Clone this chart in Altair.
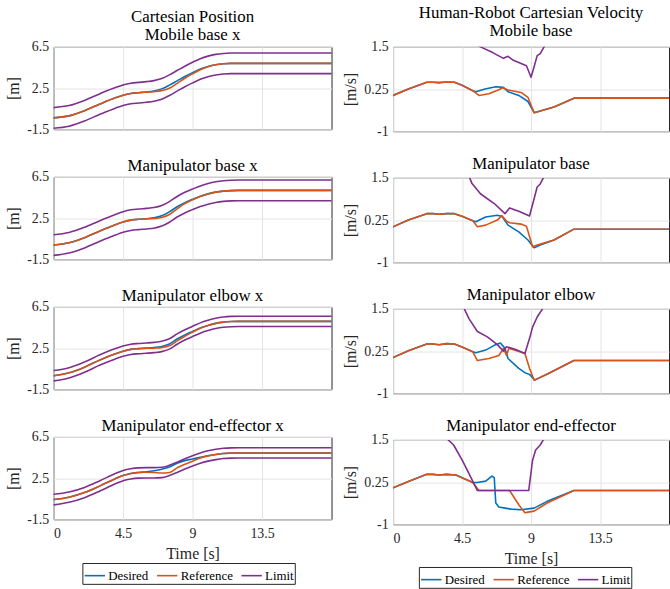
import altair as alt
import pandas as pd

SERIES = ["Desired", "Reference", "Limit"]
COLORS = ["#0072BD", "#D95319", "#7E2F8E"]
WIDTHS = [1.6, 1.6, 3.6]

# ---------------- Cartesian position (left column) ----------------
T_POS = [0, 1, 2, 3, 4, 4.5, 5, 5.5, 6, 6.5, 7, 7.5, 8, 8.5, 9, 9.5, 10, 10.5, 11, 11.5, 12, 13, 18]

MB_POS_DES = [-0.40, -0.20, 0.30, 0.95, 1.55, 1.80, 1.97, 2.05, 2.12, 2.22, 2.42, 2.78, 3.20, 3.62, 4.00, 4.35, 4.60, 4.77, 4.86, 4.90, 4.90, 4.90, 4.90]
MB_POS_REF = [-0.40, -0.20, 0.30, 0.95, 1.55, 1.80, 1.97, 2.05, 2.10, 2.15, 2.25, 2.48, 2.95, 3.45, 3.88, 4.28, 4.57, 4.77, 4.86, 4.90, 4.90, 4.90, 4.90]
MB_POS_UP = [0.60, 0.80, 1.30, 1.95, 2.55, 2.80, 2.97, 3.05, 3.12, 3.22, 3.42, 3.78, 4.20, 4.62, 5.00, 5.35, 5.60, 5.77, 5.86, 5.90, 5.90, 5.90, 5.90]
MB_POS_LO = [-1.40, -1.20, -0.70, -0.05, 0.55, 0.80, 0.97, 1.05, 1.12, 1.22, 1.42, 1.78, 2.20, 2.62, 3.00, 3.35, 3.60, 3.77, 3.86, 3.90, 3.90, 3.90, 3.90]

BS_POS_DES = [-0.12, 0.10, 0.60, 1.25, 1.85, 2.12, 2.30, 2.38, 2.44, 2.52, 2.72, 3.10, 3.60, 4.00, 4.32, 4.62, 4.85, 5.02, 5.12, 5.17, 5.19, 5.19, 5.19]
BS_POS_REF = [-0.12, 0.10, 0.60, 1.25, 1.85, 2.12, 2.30, 2.38, 2.42, 2.46, 2.56, 2.85, 3.40, 3.90, 4.28, 4.60, 4.84, 5.02, 5.12, 5.17, 5.19, 5.19, 5.19]
BS_POS_UP = [0.88, 1.10, 1.60, 2.25, 2.85, 3.12, 3.30, 3.38, 3.44, 3.52, 3.72, 4.10, 4.60, 5.00, 5.32, 5.62, 5.85, 6.02, 6.12, 6.17, 6.19, 6.19, 6.19]
BS_POS_LO = [-1.12, -0.90, -0.40, 0.25, 0.85, 1.12, 1.30, 1.38, 1.44, 1.52, 1.72, 2.10, 2.60, 3.00, 3.32, 3.62, 3.85, 4.02, 4.12, 4.17, 4.19, 4.19, 4.19]

EL_POS_DES = [-0.18, 0.10, 0.65, 1.35, 1.95, 2.20, 2.38, 2.45, 2.50, 2.56, 2.66, 2.90, 3.38, 3.78, 4.12, 4.45, 4.70, 4.90, 5.02, 5.08, 5.10, 5.10, 5.10]
EL_POS_REF = [-0.18, 0.10, 0.65, 1.35, 1.95, 2.20, 2.38, 2.45, 2.48, 2.50, 2.55, 2.72, 3.20, 3.65, 4.05, 4.42, 4.70, 4.90, 5.02, 5.08, 5.10, 5.10, 5.10]
EL_POS_UP = [0.32, 0.60, 1.15, 1.85, 2.45, 2.70, 2.88, 2.95, 3.00, 3.06, 3.16, 3.40, 3.88, 4.28, 4.62, 4.95, 5.20, 5.40, 5.52, 5.58, 5.60, 5.60, 5.60]
EL_POS_LO = [-0.68, -0.40, 0.15, 0.85, 1.45, 1.70, 1.88, 1.95, 2.00, 2.06, 2.16, 2.40, 2.88, 3.28, 3.62, 3.95, 4.20, 4.40, 4.52, 4.58, 4.60, 4.60, 4.60]

EE_POS_DES = [0.42, 0.65, 1.10, 1.75, 2.45, 2.75, 2.95, 3.05, 3.12, 3.22, 3.36, 3.58, 3.95, 4.20, 4.35, 4.52, 4.68, 4.80, 4.90, 4.93, 4.94, 4.94, 4.94]
EE_POS_REF = [0.42, 0.65, 1.10, 1.75, 2.45, 2.75, 2.95, 3.05, 3.07, 3.05, 3.00, 3.05, 3.50, 3.85, 4.15, 4.45, 4.66, 4.80, 4.90, 4.93, 4.94, 4.94, 4.94]
EE_POS_UP = [0.93, 1.15, 1.60, 2.25, 2.95, 3.25, 3.42, 3.50, 3.52, 3.52, 3.55, 3.75, 4.05, 4.38, 4.68, 4.95, 5.15, 5.30, 5.40, 5.44, 5.45, 5.45, 5.45]
EE_POS_LO = [-0.10, 0.15, 0.60, 1.25, 1.95, 2.25, 2.42, 2.50, 2.52, 2.52, 2.55, 2.75, 3.05, 3.38, 3.68, 3.95, 4.15, 4.30, 4.40, 4.44, 4.45, 4.45, 4.45]

# ---------------- Velocity (right column) ----------------
MB_VT_DES = [0, 1, 2.2, 2.6, 3.0, 3.5, 4.0, 4.5, 5.2, 5.4, 6.0, 6.7, 7.2, 7.5, 8.2, 8.8, 9.2, 9.6, 10.5, 11.8, 18]
MB_V_DES = [0.06, 0.25, 0.45, 0.45, 0.44, 0.46, 0.45, 0.36, 0.20, 0.17, 0.25, 0.32, 0.30, 0.17, 0.06, -0.12, -0.45, -0.40, -0.28, -0.02, -0.02]
MB_VT_REF = [0, 1, 2.2, 2.6, 3.0, 3.5, 4.0, 4.5, 5.2, 5.6, 6.25, 6.9, 7.15, 7.5, 8.35, 8.8, 9.2, 9.6, 10.5, 11.8, 18]
MB_V_REF = [0.06, 0.25, 0.45, 0.45, 0.44, 0.46, 0.45, 0.36, 0.20, 0.06, 0.11, 0.23, 0.29, 0.22, 0.15, 0.0, -0.45, -0.40, -0.28, -0.02, -0.02]
MB_VT_LIM = [5.5, 5.7, 6.5, 7.2, 7.5, 7.85, 8.7, 9.0, 9.2, 9.4, 9.6, 9.85, 10.0]
MB_V_LIM = [1.56, 1.50, 1.33, 1.16, 1.22, 1.10, 0.94, 0.60, 0.91, 1.24, 1.30, 1.50, 1.62]

BS_VT_DES = [0, 1, 2.2, 2.6, 3.0, 3.5, 4.0, 4.5, 5.2, 5.4, 6.04, 6.8, 7.1, 7.5, 8.2, 8.8, 9.2, 9.6, 10.5, 11.8, 18]
BS_V_DES = [0.05, 0.25, 0.44, 0.44, 0.42, 0.44, 0.44, 0.36, 0.23, 0.20, 0.34, 0.39, 0.36, 0.10, -0.10, -0.34, -0.57, -0.49, -0.34, -0.02, -0.02]
BS_VT_REF = [0, 1, 2.2, 2.6, 3.0, 3.5, 4.0, 4.5, 5.2, 5.5, 6.04, 6.8, 7.1, 7.4, 7.6, 8.35, 8.7, 9.1, 9.4, 10.5, 11.8, 18]
BS_V_REF = [0.05, 0.25, 0.44, 0.44, 0.42, 0.44, 0.44, 0.36, 0.23, 0.05, 0.10, 0.25, 0.38, 0.22, 0.17, 0.13, 0.07, -0.54, -0.49, -0.34, -0.02, -0.02]
BS_VT_LIM = [4.9, 5.0, 5.15, 5.7, 6.6, 7.3, 7.6, 8.2, 8.9, 9.2, 9.4, 9.6, 9.8, 10.0]
BS_V_LIM = [1.6, 1.5, 1.33, 1.03, 0.74, 0.44, 0.61, 0.51, 0.37, 0.88, 1.23, 1.32, 1.5, 1.7]

EL_VT_DES = [0, 1, 2.2, 2.6, 3.0, 3.5, 4.0, 4.5, 5.2, 5.4, 6.04, 6.6, 7.0, 7.3, 7.5, 8.2, 8.6, 8.9, 9.25, 10.1, 11.8, 18]
EL_V_DES = [0.06, 0.26, 0.46, 0.46, 0.44, 0.47, 0.46, 0.37, 0.23, 0.20, 0.28, 0.42, 0.49, 0.33, 0.03, -0.26, -0.39, -0.44, -0.61, -0.42, -0.03, -0.03]
EL_VT_REF = [0, 1, 2.2, 2.6, 3.0, 3.5, 4.0, 4.5, 5.2, 5.5, 6.25, 6.9, 7.2, 7.4, 7.55, 7.7, 8.6, 8.9, 9.2, 10.1, 11.8, 18]
EL_V_REF = [0.06, 0.26, 0.46, 0.46, 0.44, 0.47, 0.46, 0.37, 0.23, -0.03, 0.03, 0.12, 0.33, 0.12, 0.33, 0.31, 0.18, -0.26, -0.61, -0.42, -0.03, -0.03]
EL_VT_LIM = [4.55, 4.65, 4.95, 5.5, 6.15, 6.8, 7.2, 7.4, 8.0, 8.6, 8.9, 9.1, 9.4, 9.75, 9.9]
EL_V_LIM = [1.6, 1.5, 1.21, 0.83, 0.67, 0.44, 0.25, 0.38, 0.30, 0.18, 0.62, 0.96, 1.26, 1.5, 1.65]

EE_VT_DES = [0, 1, 2.2, 2.6, 3.0, 3.5, 4.1, 4.5, 5.2, 5.5, 6.04, 6.45, 6.6, 6.7, 6.9, 7.3, 7.7, 8.35, 9.2, 10.05, 11.8, 18]
EE_V_DES = [0.08, 0.27, 0.48, 0.48, 0.46, 0.48, 0.46, 0.38, 0.24, 0.24, 0.28, 0.43, 0.38, -0.37, -0.49, -0.52, -0.55, -0.57, -0.52, -0.32, 0.0, 0.0]
EE_VT_REF = [0, 1, 2.2, 2.6, 3.0, 3.5, 4.1, 4.5, 5.2, 5.6, 7.6, 8.2, 8.6, 8.8, 9.2, 10.05, 11.8, 18]
EE_V_REF = [0.08, 0.27, 0.48, 0.48, 0.46, 0.48, 0.46, 0.38, 0.24, 0.0, 0.0, -0.42, -0.66, -0.64, -0.61, -0.37, 0.0, 0.0]
EE_VT_LIM = [3.5, 3.6, 3.95, 4.5, 5.05, 5.5, 8.85, 9.1, 9.3, 9.6, 9.8, 9.9]
EE_V_LIM = [1.6, 1.5, 1.35, 0.91, 0.41, 0.0, 0.0, 0.9, 1.2, 1.35, 1.5, 1.6]

POS_TICKS = [-1.5, 2.5, 6.5]
VEL_TICKS = [-1, 0.25, 1.5]
X_TICKS = [0, 4.5, 9, 13.5]

FONT = "Liberation Serif"
TXT = "#262626"


def frame(parts):
    rows = []
    for series, line, ts, vs in parts:
        for t, v in zip(ts, vs):
            rows.append({"t": t, "v": v, "series": series, "line": line})
    return pd.DataFrame(rows)


def pos_df(des, ref, up, lo):
    return frame([("Desired", "d", T_POS, des), ("Reference", "r", T_POS, ref),
                  ("Limit", "u", T_POS, up), ("Limit", "l", T_POS, lo)])


def vel_df(td, d, tr, r, tl, l):
    return frame([("Desired", "d", td, d), ("Reference", "r", tr, r), ("Limit", "u", tl, l)])


LABEL_EXPR = "datum.value < 0 ? '-' + format(-datum.value, '~g') : format(datum.value, '~g')"


def panel(df, ydom, yticks, ytitle, title, bottom, legend_pos, w, h, interp, title_offset):
    x_axis = alt.Axis(values=X_TICKS, grid=True, ticks=False, domain=False,
                      labels=bottom, labelExpr=LABEL_EXPR, labelPadding=7,
                      title="Time [s]" if bottom else None, titlePadding=5)
    y_axis = alt.Axis(values=yticks, grid=True, ticks=False, domain=False,
                      labelExpr=LABEL_EXPR, labelPadding=5, title=ytitle, titlePadding=5)
    if legend_pos is not None:
        leg = alt.Legend(orient="none", legendX=legend_pos[0], legendY=legend_pos[1],
                         direction="horizontal", title=None, symbolType="stroke",
                         symbolSize=420, strokeColor=TXT, fillColor="white", padding=1,
                         labelFont=FONT, labelFontSize=13, labelColor="#000000",
                         labelOffset=2, columnPadding=5)
    else:
        leg = None
    layers = []
    for s in SERIES:
        enc = dict(
            x=alt.X("t:Q", scale=alt.Scale(domain=[0, 18], nice=False, zero=False), axis=x_axis),
            y=alt.Y("v:Q", scale=alt.Scale(domain=ydom, nice=False, zero=False), axis=y_axis),
            color=alt.Color("series:O", scale=alt.Scale(domain=SERIES, range=COLORS), legend=leg),
            strokeWidth=alt.StrokeWidth("series:O", scale=alt.Scale(domain=SERIES, range=WIDTHS), legend=leg),
            detail="line:N",
        )
        layers.append(alt.Chart(df).transform_filter(alt.datum.series == s)
                      .mark_line(clip=True, interpolate=interp, strokeCap="round", strokeJoin="round")
                      .encode(**enc))
    return alt.layer(*layers).properties(
        width=w, height=h,
        title=alt.TitleParams(text=title, anchor="middle", frame="group", offset=title_offset,
                              fontSize=17, lineHeight=18, fontWeight="normal", color="#000000", font=FONT),
    )


LW, LH = 280, 83
RW, RH = 278, 85

left = alt.vconcat(
    panel(pos_df(MB_POS_DES, MB_POS_REF, MB_POS_UP, MB_POS_LO), [-1.5, 6.5], POS_TICKS, "[m]",
          ["Cartesian Position", "Mobile base x"], False, None, LW, LH, "monotone", -4),
    panel(pos_df(BS_POS_DES, BS_POS_REF, BS_POS_UP, BS_POS_LO), [-1.5, 6.5], POS_TICKS, "[m]",
          "Manipulator base x", False, None, LW, LH, "monotone", -5),
    panel(pos_df(EL_POS_DES, EL_POS_REF, EL_POS_UP, EL_POS_LO), [-1.5, 6.5], POS_TICKS, "[m]",
          "Manipulator elbow x", False, None, LW, LH, "monotone", -5),
    panel(pos_df(EE_POS_DES, EE_POS_REF, EE_POS_UP, EE_POS_LO), [-1.5, 6.5], POS_TICKS, "[m]",
          "Manipulator end-effector x", True, (29, 127), LW, LH, "monotone", -5),
    spacing=19,
).resolve_scale(color="independent", strokeWidth="independent")

right = alt.vconcat(
    panel(vel_df(MB_VT_DES, MB_V_DES, MB_VT_REF, MB_V_REF, MB_VT_LIM, MB_V_LIM), [-1, 1.5], VEL_TICKS, "[m/s]",
          ["Human-Robot Cartesian Velocity", "Mobile base"], False, None, RW, RH, "linear", 0),
    panel(vel_df(BS_VT_DES, BS_V_DES, BS_VT_REF, BS_V_REF, BS_VT_LIM, BS_V_LIM), [-1, 1.5], VEL_TICKS, "[m/s]",
          "Manipulator base", False, None, RW, RH, "linear", -2),
    panel(vel_df(EL_VT_DES, EL_V_DES, EL_VT_REF, EL_V_REF, EL_VT_LIM, EL_V_LIM), [-1, 1.5], VEL_TICKS, "[m/s]",
          "Manipulator elbow", False, None, RW, RH, "linear", -2),
    panel(vel_df(EE_VT_DES, EE_V_DES, EE_VT_REF, EE_V_REF, EE_VT_LIM, EE_V_LIM), [-1, 1.5], VEL_TICKS, "[m/s]",
          "Manipulator end-effector", True, (26, 128), RW, RH, "linear", -2),
    spacing=15,
).resolve_scale(color="independent", strokeWidth="independent")

chart = alt.hconcat(left, right, spacing=10).resolve_scale(
    color="independent", strokeWidth="independent"
).properties(
    padding={"left": 5, "top": 1, "right": 0, "bottom": 0},
).configure(
    font=FONT, background="white",
).configure_title(
    lineHeight=18,
).configure_view(
    stroke=TXT, strokeWidth=1,
).configure_axis(
    labelFont=FONT, labelFontSize=14, labelColor=TXT,
    titleFont=FONT, titleFontSize=16, titleFontWeight="normal", titleColor=TXT,
    gridColor="#e4e4e4", gridWidth=1,
).configure_legend(
    labelFont=FONT,
)

chart.save("out.html", embed_options={"renderer": "svg", "actions": False})
